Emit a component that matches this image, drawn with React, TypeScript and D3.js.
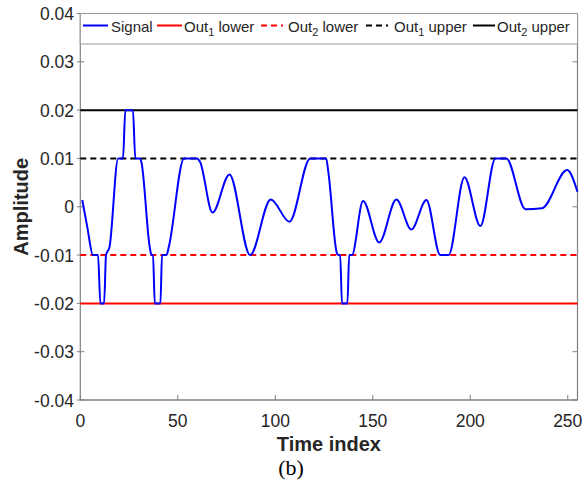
import React from "react";
import * as d3 from "d3";

// ---- data ----
const timeIndex = [
  1, 3.5, 6.5, 9.1, 10.3, 12.2, 13.2, 15, 19.4, 21.9, 23.1, 27, 28.2, 30.5, 31.3, 35.6,
  36.5, 37.3, 38.2, 41.1, 41.9, 44.2, 45.4, 53.2, 59.9, 61.4, 67.8, 76.5, 87.1, 97.7,
  107.3, 117.9, 126.1, 127.3, 131.6, 132.5, 133.3, 134.2, 137, 137.9, 139.3, 145, 153.3,
  162.1, 169.8, 177.5, 184.6, 188.9, 197, 205.2, 212.9, 218.5, 228.3, 236.8, 249.7, 255,
];
const signal = [
  0.0014, -0.004, -0.01, -0.01, -0.02, -0.02, -0.01, -0.0083, 0.01, 0.01, 0.02, 0.02, 0.01,
  0.01, 0.0093, -0.0083, -0.01, -0.01, -0.02, -0.02, -0.01, -0.01, -0.0083, 0.01, 0.01,
  0.0093, -0.0012, 0.0067, -0.01, 0.0015, -0.0031, 0.01, 0.01, 0.0069, -0.0096, -0.01,
  -0.01, -0.02, -0.02, -0.01, -0.01, 0.0012, -0.0074, 0.0015, -0.0047, 0.0014, -0.01,
  -0.01, 0.0061, -0.004, 0.01, 0.01, -0.0005, -0.0003, 0.0076, 0.0031,
];
const thresholdNames = ["Out1 lower", "Out2 lower", "Out1 upper", "Out2 upper"];
const thresholdValues = [-0.02, -0.01, 0.01, 0.02];
const xTicks = [0, 50, 100, 150, 200, 250];
const yTicks = [0.04, 0.03, 0.02, 0.01, 0, -0.01, -0.02, -0.03, -0.04];
const yTickLabels = ["0.04", "0.03", "0.02", "0.01", "0", "-0.01", "-0.02", "-0.03", "-0.04"];
const xDomain = [0, 255];
const yDomain = [-0.04, 0.04];

// ---- layout ----
const W = 582;
const H = 482;
const L = 80.3;
const R = 577.5;
const T = 13.5;
const B = 400;

const thresholdStyles = [
  { color: "#ff0000", dash: null },
  { color: "#ff0000", dash: "6,4" },
  { color: "#000000", dash: "6,4" },
  { color: "#000000", dash: null },
];

// legend layout: [lineStart, lineEnd, textX]
const legendLayout = [
  [83, 108, 111],
  [157, 182, 184],
  [261, 283, 288],
  [366, 388, 394],
  [473, 495, 497],
];

export default function App() {
  const x = d3.scaleLinear().domain(xDomain).range([L, R]);
  const y = d3.scaleLinear().domain(yDomain).range([B, T]);
  const pts = timeIndex.map((t, i) => [t, signal[i]] as [number, number]);
  const line = d3
    .line<[number, number]>()
    .x((d) => x(d[0]))
    .y((d) => y(d[1]))
    .curve(d3.curveMonotoneX);

  const font = "'Liberation Sans', Arial, Helvetica, sans-serif";
  const textColor = "#262626";
  const axisColor = "#808080";

  const legendLabel = (name: string) => {
    const m = name.match(/^Out(\d) (.*)$/);
    if (!m) return name;
    return (
      <>
        Out
        <tspan dy={4} fontSize={11}>
          {m[1]}
        </tspan>
        <tspan dy={-4}> {m[2]}</tspan>
      </>
    );
  };

  const legendItems = [
    { name: "Signal", color: "#0000ff", dash: null as string | null },
    ...thresholdNames.map((n, i) => ({ name: n, color: thresholdStyles[i].color, dash: thresholdStyles[i].dash })),
  ];

  return (
    <svg
      width={W}
      height={H}
      style={{ position: "absolute", left: 0, top: 0, background: "#fff" }}
      fontFamily={font}
    >
      <rect x={0} y={0} width={W} height={H} fill="#fff" />
      {/* axes box */}
      <line x1={L} x2={L} y1={T} y2={B} stroke={axisColor} strokeWidth={1.2} />
      <line x1={R} x2={R} y1={T} y2={B} stroke={axisColor} strokeWidth={1.2} />
      <line x1={L} x2={R} y1={B} y2={B} stroke={axisColor} strokeWidth={1.4} />
      {/* y ticks */}
      {yTicks.map((v, i) => (
        <g key={"yt" + i}>
          <line x1={L - 3.5} x2={L + 4} y1={y(v)} y2={y(v)} stroke={axisColor} strokeWidth={1} />
          <line x1={R - 5} x2={R} y1={y(v)} y2={y(v)} stroke={axisColor} strokeWidth={1} />
          <text x={74} y={y(v) + 6.5} textAnchor="end" fontSize={17.5} fill={textColor}>
            {yTickLabels[i]}
          </text>
        </g>
      ))}
      {/* x ticks */}
      {xTicks.map((v) => (
        <g key={"xt" + v}>
          <line x1={x(v)} x2={x(v)} y1={B} y2={B - 5} stroke={axisColor} strokeWidth={1} />
          <text x={x(v)} y={426.7} textAnchor="middle" fontSize={17.5} fill={textColor}>
            {v}
          </text>
        </g>
      ))}
      {/* thresholds */}
      {thresholdValues.map((v, i) => (
        <line
          key={"th" + i}
          x1={L}
          x2={R}
          y1={y(v)}
          y2={y(v)}
          stroke={thresholdStyles[i].color}
          strokeWidth={2}
          strokeDasharray={thresholdStyles[i].dash ?? undefined}
        />
      ))}
      {/* signal */}
      <path d={line(pts) ?? ""} fill="none" stroke="#0000ff" strokeWidth={2} strokeLinejoin="round" />
      {/* legend */}
      <rect x={L} y={T} width={R - L} height={30.5} fill="#fff" stroke="#999" strokeWidth={1} />
      {legendItems.map((it, i) => {
        const [a, b, tx] = legendLayout[i];
        return (
          <g key={"lg" + i}>
            <line
              x1={a}
              x2={b}
              y1={25.5}
              y2={25.5}
              stroke={it.color}
              strokeWidth={2}
              strokeDasharray={it.dash ? "6,4" : undefined}
            />
            <text x={tx} y={32} fontSize={15} fill={textColor}>
              {legendLabel(it.name)}
            </text>
          </g>
        );
      })}
      {/* axis labels */}
      <text x={(L + R) / 2} y={450.5} textAnchor="middle" fontSize={20} fontWeight="bold" fill={textColor}>
        Time index
      </text>
      <text
        transform={`translate(28,${(T + B) / 2}) rotate(-90)`}
        textAnchor="middle"
        fontSize={20}
        fontWeight="bold"
        fill={textColor}
      >
        Amplitude
      </text>
      <text
        x={291}
        y={475}
        textAnchor="middle"
        fontSize={22}
        fontFamily="'Liberation Serif', 'Times New Roman', serif"
        fill="#000"
      >
        (b)
      </text>
    </svg>
  );
}
